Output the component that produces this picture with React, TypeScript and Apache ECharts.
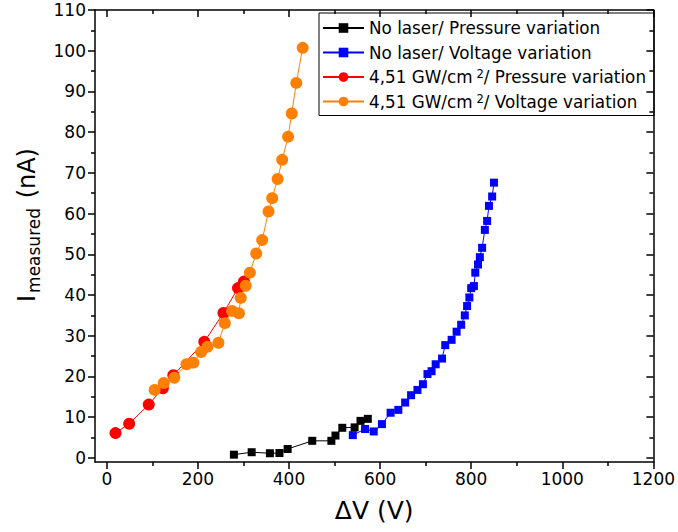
import React, { useEffect, useRef } from "react";
import * as echarts from "echarts";

// No laser / Pressure variation
const blackX = [279, 318, 358, 379, 397, 451, 493, 502, 517, 544, 557, 573];
const blackY = [0.8, 1.4, 1.15, 1.2, 2.2, 4.2, 4.2, 5.5, 7.4, 7.5, 9.1, 9.6];

// No laser / Voltage variation
const blueX = [540, 567, 586, 604, 623, 640, 655, 668, 682, 694, 704, 713, 722, 736, 743, 757, 768, 778, 786, 791, 796, 800, 806, 809, 815, 819, 824, 830, 835, 839, 846, 850];
const blueY = [5.6, 7.1, 6.5, 8.3, 11.1, 11.8, 13.6, 15.4, 16.7, 18.1, 20.6, 21.3, 23.0, 24.4, 27.7, 29.0, 31.0, 32.7, 35.0, 37.3, 39.4, 41.7, 42.2, 45.5, 47.5, 49.3, 51.6, 56.0, 58.2, 61.9, 64.2, 67.6];

// 4,51 GW/cm2 / Pressure variation
const redX = [19, 49, 92, 123, 146, 214, 256, 288, 301];
const redY = [6.1, 8.4, 13.1, 17.1, 20.3, 28.5, 35.6, 41.7, 43.3];

// 4,51 GW/cm2 / Voltage variation
const orangeX = [105, 125, 148, 175, 190, 207, 221, 245, 259, 275, 290, 294, 305, 314, 328, 341, 355, 363, 375, 385, 398, 406, 416, 430];
const orangeY = [16.7, 18.4, 19.7, 23.0, 23.4, 26.0, 27.3, 28.3, 33.1, 36.1, 35.5, 39.3, 42.3, 45.5, 50.2, 53.5, 60.5, 63.8, 68.5, 73.2, 78.9, 84.6, 92.1, 100.7];

const seriesNames = [
  "No laser/ Pressure variation",
  "No laser/ Voltage variation",
  "4,51 GW/cm2/ Pressure variation",
  "4,51 GW/cm2/ Voltage variation",
];

const xMajor = [0, 200, 400, 600, 800, 1000, 1200];
const xMinor = [100, 300, 500, 700, 900, 1100];
const yMajor = [0, 10, 20, 30, 40, 50, 60, 70, 80, 90, 100, 110];
const yMinor = [5, 15, 25, 35, 45, 55, 65, 75, 85, 95, 105];

const FONT = "DejaVu Sans";

const pairs = (xs: number[], ys: number[]) => xs.map((x, i) => [x, ys[i]]);

export default function App() {
  const ref = useRef<HTMLDivElement>(null);

  useEffect(() => {
    const chart = echarts.init(ref.current!, null, { renderer: "svg" });
    const lineCol = { color: "#000", width: 1.5 };
    const axisLineOn = { show: true, onZero: false, lineStyle: lineCol };
    const axisLineOff = { show: false, onZero: false };
    const xBase = { type: "value", min: -26, max: 1200, splitLine: { show: false } };
    const yBase = { type: "value", min: -1, max: 110, splitLine: { show: false } };
    const tick = (vals: number[], len: number, inside = false) => ({
      show: true,
      inside,
      customValues: vals,
      length: len,
      lineStyle: lineCol,
    });
    const noLabel = { show: false };
    const plain = (v: number) => String(v);

    chart.setOption({
      animation: false,
      backgroundColor: "#fff",
      grid: { left: 95, right: 21, top: 10, bottom: 70 },
      xAxis: [
        {
          ...xBase,
          position: "bottom",
          axisLine: axisLineOn,
          axisTick: tick(xMajor, 7),
          axisLabel: { customValues: xMajor, formatter: plain, fontFamily: FONT, fontSize: 17, color: "#000", margin: 8 },
          name: "ΔV (V)",
          nameLocation: "middle",
          nameGap: 36,
          nameTextStyle: { fontFamily: FONT, fontSize: 25, color: "#000" },
        },
        { ...xBase, position: "bottom", axisLine: axisLineOff, axisTick: tick(xMinor, 4), axisLabel: noLabel },
        { ...xBase, position: "top", axisLine: axisLineOn, axisTick: tick(xMajor, 7, true), axisLabel: noLabel },
        { ...xBase, position: "top", axisLine: axisLineOff, axisTick: tick(xMinor, 4, true), axisLabel: noLabel },
      ],
      yAxis: [
        {
          ...yBase,
          position: "left",
          axisLine: axisLineOn,
          axisTick: tick(yMajor, 7),
          axisLabel: { customValues: yMajor, formatter: plain, fontFamily: FONT, fontSize: 17, color: "#000", margin: 9 },
          name: "{i|I}{sub|measured}{i| (nA)}",
          nameLocation: "middle",
          nameRotate: 90,
          nameGap: 48,
          nameTextStyle: {
            fontFamily: FONT,
            fontSize: 24,
            color: "#000",
            lineHeight: 32,
            padding: [0, 0, 0, 22],
            rich: {
              i: { fontFamily: FONT, fontSize: 24, lineHeight: 32, color: "#000", verticalAlign: "middle" },
              sub: { fontFamily: FONT, fontSize: 17, lineHeight: 17, color: "#000", verticalAlign: "bottom", padding: [0, 2, 0, 2] },
            },
          },
        },
        { ...yBase, position: "left", axisLine: axisLineOff, axisTick: tick(yMinor, 4), axisLabel: noLabel },
        { ...yBase, position: "right", axisLine: axisLineOn, axisTick: tick(yMajor, 7, true), axisLabel: noLabel },
        { ...yBase, position: "right", axisLine: axisLineOff, axisTick: tick(yMinor, 4, true), axisLabel: noLabel },
      ],
      legend: {
        orient: "vertical",
        left: 319,
        top: 13,
        itemWidth: 41,
        itemHeight: 12,
        itemGap: 6.5,
        padding: [6, 8, 5, 3],
        borderColor: "#000",
        borderWidth: 1,
        data: seriesNames,
        formatter: (n: string) => n.replace("cm2", "cm{sup|2}"),
        textStyle: {
          fontFamily: FONT,
          fontSize: 16.8,
          color: "#000",
          lineHeight: 18,
          rich: {
            sup: { fontFamily: FONT, fontSize: 11.5, lineHeight: 11, color: "#000", verticalAlign: "top", padding: [0, 0, 0, 4] },
          },
        },
      },
      series: [
        {
          type: "line",
          name: seriesNames[0],
          data: pairs(blackX, blackY),
          symbol: "rect",
          symbolSize: 8,
          itemStyle: { color: "#000000" },
          lineStyle: { color: "#000000", width: 1 },
        },
        {
          type: "line",
          name: seriesNames[1],
          data: pairs(blueX, blueY),
          symbol: "rect",
          symbolSize: 8,
          itemStyle: { color: "#0000ff" },
          lineStyle: { color: "#0000ff", width: 1 },
        },
        {
          type: "line",
          name: seriesNames[2],
          data: pairs(redX, redY),
          symbol: "circle",
          symbolSize: 12,
          itemStyle: { color: "#ff0000" },
          lineStyle: { color: "#ff0000", width: 1 },
        },
        {
          type: "line",
          name: seriesNames[3],
          data: pairs(orangeX, orangeY),
          symbol: "circle",
          symbolSize: 12,
          itemStyle: { color: "#ff8000" },
          lineStyle: { color: "#ff8000", width: 1 },
        },
      ],
    });
    return () => chart.dispose();
  }, []);

  return (
    <div
      ref={ref}
      style={{ position: "fixed", left: 0, top: 0, width: 678, height: 532, background: "#fff" }}
    />
  );
}
